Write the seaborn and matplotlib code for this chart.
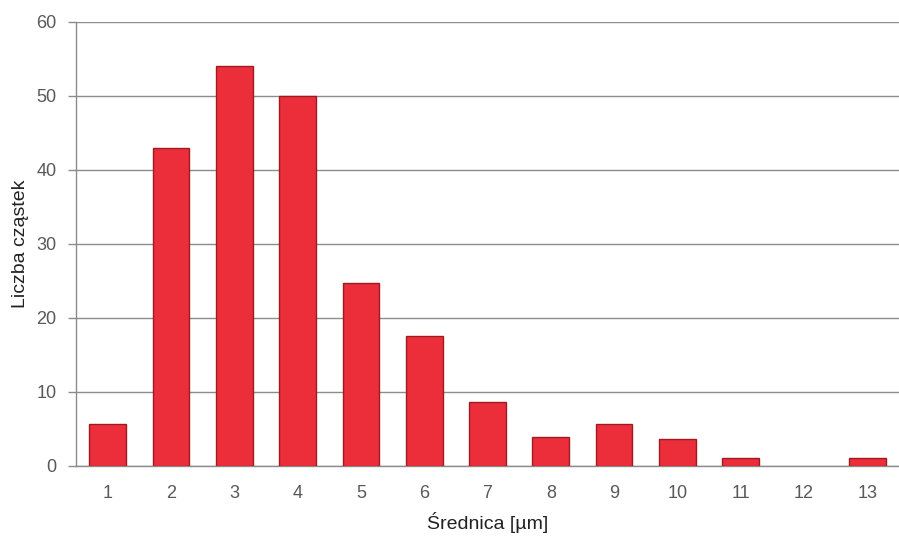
import seaborn as sns
import matplotlib.pyplot as plt
import pandas as pd

# Dane
srednica = ['1', '2', '3', '4', '5', '6', '7', '8', '9', '10', '11', '12', '13']
liczba = [5.7, 43, 54, 50, 24.7, 17.6, 8.6, 3.9, 5.7, 3.7, 1.1, 0, 1.1]
y_ticks = [0, 10, 20, 30, 40, 50, 60]

df = pd.DataFrame({'srednica': srednica, 'liczba': liczba})

sns.set_style('white')
plt.rcParams['font.family'] = ['Liberation Sans', 'DejaVu Sans']

fig = plt.figure(figsize=(8.99, 5.36), dpi=100)
ax = fig.add_axes([0.0845, 0.1306, 0.9155, 0.8284])

sns.barplot(x='srednica', y='liczba', data=df, order=srednica, color='#EC2D3A',
            width=0.58, edgecolor='#9E1B22', linewidth=1.0, saturation=1, ax=ax, zorder=3)

# Słupek o wysokości 0 nie powinien rysować krawędzi
for patch in ax.patches:
    if patch.get_height() == 0:
        patch.set_linewidth(0)

ax.set_ylim(0, 60)
ax.set_yticks(y_ticks)
ax.set_xlim(-0.5, len(srednica) - 0.5)
ax.yaxis.grid(True, color='#8C8C8C', linewidth=1.0, zorder=0)
ax.set_axisbelow(True)

# Kreski osi X między kategoriami
ax.set_xticks(range(len(srednica)))
ax.set_xticks([i - 0.5 for i in range(len(srednica) + 1)], minor=True)
ax.tick_params(axis='x', which='major', length=0, pad=14, labelsize=13, labelcolor='#595959')
ax.tick_params(axis='x', which='minor', length=6, width=1, color='#8C8C8C', direction='out')
ax.tick_params(axis='y', length=6, width=1, color='#8C8C8C', direction='out', pad=8,
               labelsize=13, labelcolor='#595959', left=True)

for side in ['top', 'right']:
    ax.spines[side].set_visible(False)
for side in ['left', 'bottom']:
    ax.spines[side].set_color('#8C8C8C')
    ax.spines[side].set_linewidth(1.0)

ax.set_xlabel('Średnica [µm]', fontsize=14, color='#222222', labelpad=7)
ax.set_ylabel('Liczba cząstek', fontsize=14, color='#222222', labelpad=5)

fig.savefig('out.png', dpi=100)
